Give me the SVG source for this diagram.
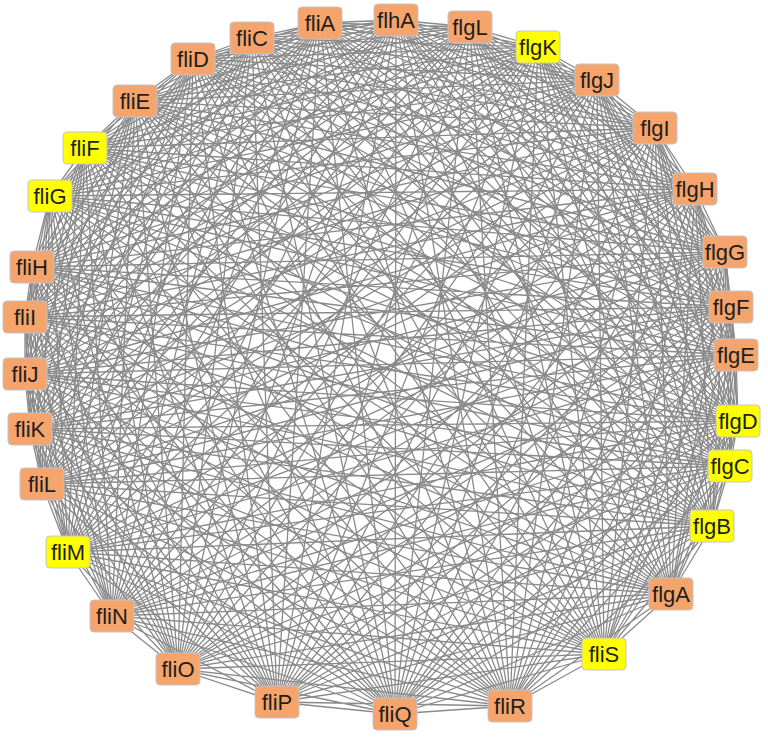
<svg xmlns="http://www.w3.org/2000/svg" width="768" height="737" viewBox="0 0 768 737">
<style>
.e{fill:none;stroke:#8a8a8a;stroke-width:1.3;stroke-linejoin:round}
.n rect{stroke:#c4c4cc;stroke-width:1}
.o rect{fill:#f5a46b}
.y rect{fill:#ffff00}
.n text{font-family:"Liberation Sans",Arial,sans-serif;font-size:22px;fill:#1e1e1e;text-anchor:middle}
</style>
<rect width="768" height="737" fill="#ffffff"/>
<g id="edges">
<path class="e" d="M396,20 470,27 538,47 597,80 655,128 695,189 725,252 731,307 736,355 738,421 730,466 712,526 671,594 604,654 510,706 395,714 277,702 178,669 112,616 68,552 42,484 30,429 25,374 25,317 32,267 50,196 85,148 135,101 193,59 252,38 320,23Z"/>
<path class="e" d="M396,20 538,47 655,128 725,252 736,355 730,466 671,594 510,706 277,702 112,616 42,484 25,374 32,267 85,148 193,59 320,23 470,27 597,80 695,189 731,307 738,421 712,526 604,654 395,714 178,669 68,552 30,429 25,317 50,196 135,101 252,38Z"/>
<path class="e" d="M396,20 597,80 725,252 738,421 671,594 395,714 112,616 30,429 32,267 135,101 320,23 538,47 695,189 736,355 712,526 510,706 178,669 42,484 25,317 85,148 252,38 470,27 655,128 731,307 730,466 604,654 277,702 68,552 25,374 50,196 193,59Z"/>
<path class="e" d="M396,20 655,128 736,355 671,594 277,702 42,484 32,267 193,59 470,27 695,189 738,421 604,654 178,669 30,429 50,196 252,38 538,47 725,252 730,466 510,706 112,616 25,374 85,148 320,23 597,80 731,307 712,526 395,714 68,552 25,317 135,101Z"/>
<path class="e" d="M396,20 695,189 730,466 395,714 42,484 50,196 320,23 655,128 738,421 510,706 68,552 32,267 252,38 597,80 736,355 604,654 112,616 25,317 193,59 538,47 731,307 671,594 178,669 25,374 135,101 470,27 725,252 712,526 277,702 30,429 85,148Z"/>
<path class="e" d="M396,20 725,252 671,594 112,616 32,267 320,23 695,189 712,526 178,669 25,317 252,38 655,128 730,466 277,702 25,374 193,59 597,80 738,421 395,714 30,429 135,101 538,47 736,355 510,706 42,484 85,148 470,27 731,307 604,654 68,552 50,196Z"/>
<path class="e" d="M396,20 731,307 510,706 30,429 193,59 655,128 712,526 112,616 50,196 470,27 736,355 395,714 25,374 252,38 695,189 671,594 68,552 85,148 538,47 738,421 277,702 25,317 320,23 725,252 604,654 42,484 135,101 597,80 730,466 178,669 32,267Z"/>
<path class="e" d="M396,20 736,355 277,702 32,267 470,27 738,421 178,669 50,196 538,47 730,466 112,616 85,148 597,80 712,526 68,552 135,101 655,128 671,594 42,484 193,59 695,189 604,654 30,429 252,38 725,252 510,706 25,374 320,23 731,307 395,714 25,317Z"/>
<path class="e" d="M396,20 738,421 112,616 135,101 695,189 510,706 25,317 470,27 730,466 68,552 193,59 725,252 395,714 32,267 538,47 712,526 42,484 252,38 731,307 277,702 50,196 597,80 671,594 30,429 320,23 736,355 178,669 85,148 655,128 604,654 25,374Z"/>
<path class="e" d="M396,20 730,466 42,484 320,23 738,421 68,552 252,38 736,355 112,616 193,59 731,307 178,669 135,101 725,252 277,702 85,148 695,189 395,714 50,196 655,128 510,706 32,267 597,80 604,654 25,317 538,47 671,594 25,374 470,27 712,526 30,429Z"/>
<path class="e" d="M396,20 712,526 25,374 538,47 604,654 32,267 655,128 395,714 85,148 725,252 178,669 193,59 736,355 68,552 320,23 730,466 30,429 470,27 671,594 25,317 597,80 510,706 50,196 695,189 277,702 135,101 731,307 112,616 252,38 738,421 42,484Z"/>
<path class="e" d="M396,20 671,594 32,267 695,189 178,669 252,38 730,466 25,374 597,80 395,714 135,101 736,355 42,484 470,27 604,654 50,196 725,252 112,616 320,23 712,526 25,317 655,128 277,702 193,59 738,421 30,429 538,47 510,706 85,148 731,307 68,552Z"/>
<path class="e" d="M396,20 604,654 85,148 736,355 30,429 597,80 277,702 252,38 712,526 32,267 725,252 68,552 470,27 510,706 135,101 738,421 25,374 655,128 178,669 320,23 671,594 50,196 731,307 42,484 538,47 395,714 193,59 730,466 25,317 695,189 112,616Z"/>
<path class="e" d="M396,20 510,706 193,59 712,526 50,196 736,355 25,374 695,189 68,552 538,47 277,702 320,23 604,654 135,101 730,466 32,267 731,307 30,429 655,128 112,616 470,27 395,714 252,38 671,594 85,148 738,421 25,317 725,252 42,484 597,80 178,669Z"/>
<path class="e" d="M396,20 395,714 320,23 510,706 252,38 604,654 193,59 671,594 135,101 712,526 85,148 730,466 50,196 738,421 32,267 736,355 25,317 731,307 25,374 725,252 30,429 695,189 42,484 655,128 68,552 597,80 112,616 538,47 178,669 470,27 277,702Z"/>
</g>
<g id="flhA" class="n o"><rect x="374" y="4" width="44" height="32" rx="4"/><text x="396" y="28">flhA</text></g>
<g id="flgL" class="n o"><rect x="448" y="11" width="44" height="32" rx="4"/><text x="470" y="35">flgL</text></g>
<g id="flgK" class="n y"><rect x="516" y="31" width="44" height="32" rx="4"/><text x="538" y="55">flgK</text></g>
<g id="flgJ" class="n o"><rect x="575" y="64" width="44" height="32" rx="4"/><text x="597" y="88">flgJ</text></g>
<g id="flgI" class="n o"><rect x="633" y="112" width="44" height="32" rx="4"/><text x="655" y="136">flgI</text></g>
<g id="flgH" class="n o"><rect x="673" y="173" width="44" height="32" rx="4"/><text x="695" y="197">flgH</text></g>
<g id="flgG" class="n o"><rect x="703" y="236" width="44" height="32" rx="4"/><text x="725" y="260">flgG</text></g>
<g id="flgF" class="n o"><rect x="709" y="291" width="44" height="32" rx="4"/><text x="731" y="315">flgF</text></g>
<g id="flgE" class="n o"><rect x="714" y="339" width="44" height="32" rx="4"/><text x="736" y="363">flgE</text></g>
<g id="flgD" class="n y"><rect x="716" y="405" width="44" height="32" rx="4"/><text x="738" y="429">flgD</text></g>
<g id="flgC" class="n y"><rect x="708" y="450" width="44" height="32" rx="4"/><text x="730" y="474">flgC</text></g>
<g id="flgB" class="n y"><rect x="690" y="510" width="44" height="32" rx="4"/><text x="712" y="534">flgB</text></g>
<g id="flgA" class="n o"><rect x="649" y="578" width="44" height="32" rx="4"/><text x="671" y="602">flgA</text></g>
<g id="fliS" class="n y"><rect x="582" y="638" width="44" height="32" rx="4"/><text x="604" y="662">fliS</text></g>
<g id="fliR" class="n o"><rect x="488" y="690" width="44" height="32" rx="4"/><text x="510" y="714">fliR</text></g>
<g id="fliQ" class="n o"><rect x="373" y="698" width="44" height="32" rx="4"/><text x="395" y="722">fliQ</text></g>
<g id="fliP" class="n o"><rect x="255" y="686" width="44" height="32" rx="4"/><text x="277" y="710">fliP</text></g>
<g id="fliO" class="n o"><rect x="156" y="653" width="44" height="32" rx="4"/><text x="178" y="677">fliO</text></g>
<g id="fliN" class="n o"><rect x="90" y="600" width="44" height="32" rx="4"/><text x="112" y="624">fliN</text></g>
<g id="fliM" class="n y"><rect x="46" y="536" width="44" height="32" rx="4"/><text x="68" y="560">fliM</text></g>
<g id="fliL" class="n o"><rect x="20" y="468" width="44" height="32" rx="4"/><text x="42" y="492">fliL</text></g>
<g id="fliK" class="n o"><rect x="8" y="413" width="44" height="32" rx="4"/><text x="30" y="437">fliK</text></g>
<g id="fliJ" class="n o"><rect x="3" y="358" width="44" height="32" rx="4"/><text x="25" y="382">fliJ</text></g>
<g id="fliI" class="n o"><rect x="3" y="301" width="44" height="32" rx="4"/><text x="25" y="325">fliI</text></g>
<g id="fliH" class="n o"><rect x="10" y="251" width="44" height="32" rx="4"/><text x="32" y="275">fliH</text></g>
<g id="fliG" class="n y"><rect x="28" y="180" width="44" height="32" rx="4"/><text x="50" y="204">fliG</text></g>
<g id="fliF" class="n y"><rect x="63" y="132" width="44" height="32" rx="4"/><text x="85" y="156">fliF</text></g>
<g id="fliE" class="n o"><rect x="113" y="85" width="44" height="32" rx="4"/><text x="135" y="109">fliE</text></g>
<g id="fliD" class="n o"><rect x="171" y="43" width="44" height="32" rx="4"/><text x="193" y="67">fliD</text></g>
<g id="fliC" class="n o"><rect x="230" y="22" width="44" height="32" rx="4"/><text x="252" y="46">fliC</text></g>
<g id="fliA" class="n o"><rect x="298" y="7" width="44" height="32" rx="4"/><text x="320" y="31">fliA</text></g>
</svg>
